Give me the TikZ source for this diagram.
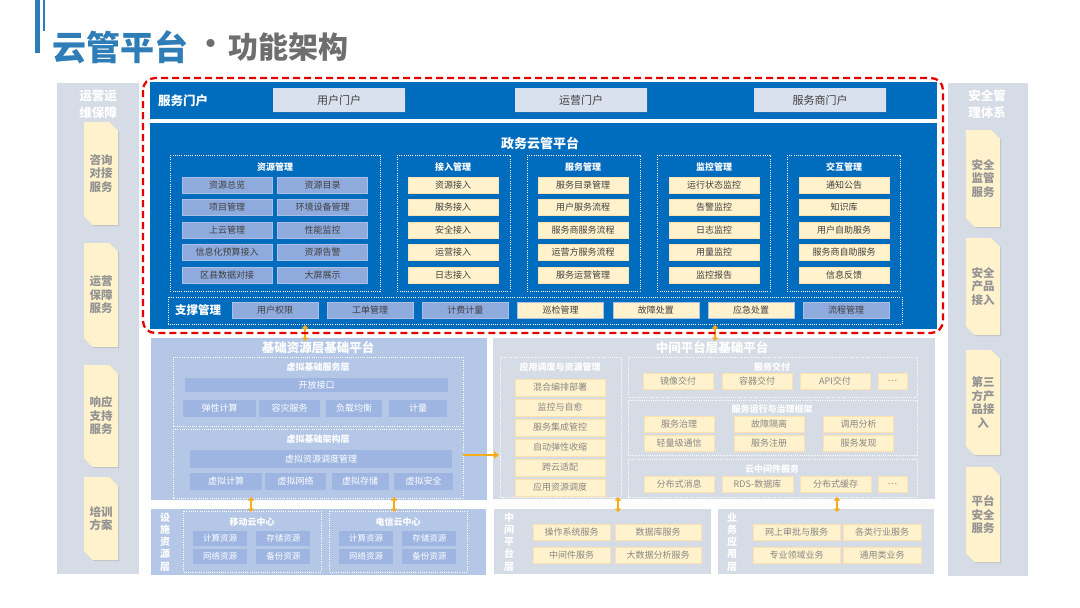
\documentclass[tikz,border=0pt]{standalone}
\usepackage{fontspec}
\setmainfont{Noto Sans CJK SC}
\usepackage{tikz}
\usetikzlibrary{shapes.misc, arrows.meta, positioning, shadows}
\definecolor{platblue}{RGB}{0, 108, 189}
\definecolor{titleblue}{RGB}{46, 125, 182}
\definecolor{titlegray}{RGB}{110, 110, 110}
\definecolor{lavender}{RGB}{143, 170, 220}
\definecolor{paleyellow}{RGB}{255, 242, 204}
\definecolor{portalgray}{RGB}{218, 225, 238}
\definecolor{sidegray}{RGB}{214, 220, 229}
\definecolor{basisblue}{RGB}{180, 199, 231}
\definecolor{basisbox}{RGB}{158, 181, 226}
\definecolor{dashred}{RGB}{228, 0, 0}
\definecolor{goldorange}{RGB}{247, 172, 28}
\definecolor{inkdark}{RGB}{64, 64, 64}
\definecolor{inkgray}{RGB}{135, 135, 135}
\tikzset{
  >=Stealth,
  softshadow/.style={drop shadow={shadow xshift=0.8pt, shadow yshift=-0.8pt, opacity=0.25}},
  dotgroup/.style={draw=white, line width=0.9pt, dash pattern=on 0.9pt off 1.3pt},
  grouptitle/.style={text=white, inner sep=0pt, font=\fontsize{9}{11}\selectfont\bfseries},
  layertitle/.style={text=white, inner sep=0pt, font=\fontsize{9}{11}\selectfont\bfseries},
  paneltitle/.style={text=white, inner sep=0pt, font=\fontsize{12.5}{14}\selectfont\bfseries},
  sidetitle/.style={text=white, inner sep=0pt, align=center, font=\fontsize{12.5}{17}\selectfont\bfseries},
  vlabel/.style={text=white, inner sep=0pt, align=center, font=\fontsize{10}{12.2}\selectfont\bfseries},
  portalitem/.style={rectangle, fill=portalgray, text=inkdark, inner sep=0pt, minimum width=132pt, minimum height=24pt, font=\fontsize{11}{13}\selectfont, softshadow},
  lavitem/.style={rectangle, fill=lavender, draw=white!25!lavender, line width=0.4pt, text=inkdark, inner sep=0pt, minimum width=90pt, minimum height=16pt, font=\fontsize{9}{11}\selectfont, softshadow},
  yelitem/.style={lavitem, fill=paleyellow, draw=paleyellow!85!orange},
  miditem/.style={yelitem, text=inkgray, minimum width=70pt},
  basisitem/.style={rectangle, fill=basisbox, text=white, inner sep=0pt, minimum height=17pt, font=\fontsize{9}{11}\selectfont},
  sidecard/.style={chamfered rectangle, chamfered rectangle corners={north east, south west}, chamfered rectangle xsep=5pt, fill=paleyellow, text=inkgray!90, inner sep=0pt, minimum width=34pt, align=center, font=\fontsize{11.5}{13.5}\selectfont\bfseries, drop shadow={shadow xshift=1.2pt, shadow yshift=-1.2pt, opacity=0.3}},
  duplex/.style={{Triangle[length=3.5pt, width=6.5pt]}-{Triangle[length=3.5pt, width=6.5pt]}, line width=2.2pt, goldorange},
  oneway/.style={-{Triangle[length=5pt, width=7.5pt]}, line width=2.6pt, goldorange}
}

\begin{document}
\begin{tikzpicture}[x=1pt, y=-1pt]
    \useasboundingbox (0,0) rectangle (1080,608);
    \fill[white] (0,0) rectangle (1080,608);

    % --- TITLE ---
    \fill[titleblue] (35,0) rectangle (39.5,53);
    \fill[titleblue] (43,0) rectangle (45,31);
    \node[anchor=west, inner sep=0pt, text=titleblue, font=\fontsize{34}{34}\selectfont\bfseries] (title) at (52,47) {云管平台};
    \node[inner sep=0pt, text=titlegray, font=\fontsize{29}{29}\selectfont\bfseries] (titleDot) at (211,47) {·};
    \node[anchor=west, inner sep=0pt, text=titlegray, font=\fontsize{30}{30}\selectfont\bfseries] (subtitle) at (228,47) {功能架构};

    % --- SIDE COLUMNS ---
    % Left: operation support
    \filldraw[sidegray, draw=white, line width=1pt, softshadow] (56,82) rectangle (139,574);
    \node[sidetitle] (opsTitle) at (98,104) {运营运\\维保障};
    \foreach \nm/\y/\h/\t in {cardL1/173.5/103/{咨询\\对接\\服务}, cardL2/295/104/{运营\\保障\\服务}, cardL3/416/102/{响应\\支持\\服务}, cardL4/518.5/83/{培训\\方案}}
        \node[sidecard, minimum height=\h pt] (\nm) at (101,\y) {\t};
    % Right: security system
    \filldraw[sidegray, draw=white, line width=1pt, softshadow] (947,82) rectangle (1028,576);
    \node[sidetitle] (secTitle) at (987,104) {安全管\\理体系};
    \foreach \nm/\y/\h/\t in {cardR1/178.5/97/{安全\\监管\\服务}, cardR2/286.5/97/{安全\\产品\\接入}, cardR3/402.5/105/{第三\\方产\\品接\\入}, cardR4/514.5/95/{平台\\安全\\服务}}
        \node[sidecard, minimum height=\h pt] (\nm) at (983,\y) {\t};

    % --- SERVICE PORTAL BAR ---
    \fill[platblue] (150,82) rectangle (937,119);
    \node[anchor=west, inner sep=0pt, text=white, font=\fontsize{12.5}{14}\selectfont\bfseries] (portal) at (158,101) {服务门户};
    \node[portalitem] (pUser) at (339,100) {用户门户};
    \node[portalitem] (pOps) at (581,100) {运营门户};
    \node[portalitem] (pVendor) at (820,100) {服务商门户};

    % --- GOVERNMENT CLOUD PLATFORM ---
    \fill[platblue] (150,123) rectangle (937,329);
    \node[paneltitle, font=\fontsize{13}{15}\selectfont\bfseries] (govTitle) at (540,143) {政务云管平台};
    \draw[dotgroup] (170,155) rectangle (380,291);
    \draw[dotgroup] (397,155) rectangle (510,291);
    \draw[dotgroup] (527,155) rectangle (640,291);
    \draw[dotgroup] (657,155) rectangle (770,291);
    \draw[dotgroup] (787,155) rectangle (900,291);
    \node[grouptitle] (gRes) at (275,167) {资源管理};
    \node[grouptitle] (gAcc) at (453,167) {接入管理};
    \node[grouptitle] (gSvc) at (583,167) {服务管理};
    \node[grouptitle] (gMon) at (714,167) {监控管理};
    \node[grouptitle] (gInt) at (844,167) {交互管理};
    \foreach \i/\a/\b in {1/资源总览/资源目录, 2/项目管理/环境设备管理, 3/上云管理/性能监控, 4/信息化预算接入/资源告警, 5/区县数据对接/大屏展示} {
        \node[lavitem] (resA\i) at (227, 162.5+22.5*\i) {\a};
        \node[lavitem] (resB\i) at (322.5, 162.5+22.5*\i) {\b};
    }
    \foreach \i/\p/\q/\r/\s in {1/资源接入/服务目录管理/运行状态监控/通知公告, 2/服务接入/用户服务流程/告警监控/知识库, 3/安全接入/服务商服务流程/日志监控/用户自助服务, 4/运营接入/运营方服务流程/用量监控/服务商自助服务, 5/日志接入/服务运营管理/监控报告/信息反馈} {
        \node[yelitem] (acc\i) at (453, 162.5+22.5*\i) {\p};
        \node[yelitem] (svc\i) at (583, 162.5+22.5*\i) {\q};
        \node[yelitem] (mon\i) at (714, 162.5+22.5*\i) {\r};
        \node[yelitem] (int\i) at (844, 162.5+22.5*\i) {\s};
    }
    % support management row
    \draw[dotgroup] (168,297) rectangle (902,324);
    \node[inner sep=0pt, text=white, font=\fontsize{11.5}{13}\selectfont\bfseries] (supTitle) at (198,310.5) {支撑管理};
    \foreach \i/\t/\c in {0/用户权限/lavender, 1/工单管理/lavender, 2/计费计量/lavender, 3/巡检管理/paleyellow, 4/故障处置/paleyellow, 5/应急处置/paleyellow, 6/流程管理/lavender}
        \node[lavitem, fill=\c, minimum width=86pt] (sup\i) at (275+95.2*\i, 310.5) {\t};

    % --- BASIS RESOURCE PLATFORM ---
    \filldraw[basisblue, draw=white, line width=1pt, softshadow] (150,337) rectangle (487,500);
    \node[paneltitle] (basisTitle) at (318,348) {基础资源层基础平台};
    \draw[dotgroup] (173,357) rectangle (463,426);
    \node[layertitle] (vSvcTitle) at (318,367) {虚拟基础服务层};
    \node[basisitem, minimum width=263pt, minimum height=14pt] (openApi) at (316.5,385) {开放接口};
    \foreach \nm/\x/\w/\t in {vs1/219.5/73/弹性计算, vs2/289.5/61/容灾服务, vs3/354/56/负载均衡, vs4/418/58/计量}
        \node[basisitem, minimum width=\w pt] (\nm) at (\x,408.5) {\t};
    \draw[dotgroup] (173,429) rectangle (463,498);
    \node[layertitle] (vArchTitle) at (318,439) {虚拟基础架构层};
    \node[basisitem, minimum width=262pt, minimum height=18pt] (vSched) at (321,459) {虚拟资源调度管理};
    \foreach \nm/\x/\w/\t in {va1/226/72/虚拟计算, va2/295.5/61/虚拟网络, va3/360/57/虚拟存储, va4/423.5/59/虚拟安全}
        \node[basisitem, minimum width=\w pt] (\nm) at (\x,481.5) {\t};

    % --- MIDDLE PLATFORM ---
    \filldraw[sidegray, draw=white, line width=1.5pt, softshadow] (492,337) rectangle (936,500);
    \node[paneltitle] (midTitle) at (712,348) {中间平台层基础平台};
    \draw[dotgroup] (500,357) rectangle (621,497);
    \node[layertitle] (appTitle) at (560,367) {应用调度与资源管理};
    \foreach \i/\t in {0/混合编排部署, 1/监控与自愈, 2/服务集成管控, 3/自动弹性收缩, 4/跨云适配, 5/应用资源调度}
        \node[miditem, minimum width=90pt, minimum height=17pt] (app\i) at (560, 387.5+20*\i) {\t};
    \draw[dotgroup] (628,357) rectangle (917,397);
    \node[layertitle] (delTitle) at (772,367) {服务交付};
    \foreach \nm/\x/\w/\t in {del1/678/70/镜像交付, del2/757/70/容器交付, del3/835/70/API交付, del4/892.5/29/…}
        \node[miditem, minimum width=\w pt] (\nm) at (\x,381) {\t};
    \draw[dotgroup] (628,400) rectangle (917,455);
    \node[layertitle] (rtTitle) at (772,409) {服务运行与治理框架};
    \foreach \i/\x/\a/\b in {1/679/服务治理/轻量级通信, 2/769/故障隔离/服务注册, 3/858.5/调用分析/服务发现} {
        \node[miditem] (rtA\i) at (\x,424.5) {\a};
        \node[miditem] (rtB\i) at (\x,443) {\b};
    }
    \draw[dotgroup] (628,459) rectangle (917,497);
    \node[layertitle] (mwTitle) at (772,469) {云中间件服务};
    \foreach \nm/\x/\w/\t in {mw1/679/70/分布式消息, mw2/757.5/71/RDS-数据库, mw3/835.5/71/分布式缓存, mw4/892.5/29/…}
        \node[miditem, minimum width=\w pt] (\nm) at (\x,484) {\t};

    % --- BOTTOM LAYERS ---
    % facility resources
    \filldraw[basisblue, draw=white, line width=1pt, softshadow] (150,508) rectangle (486,575);
    \node[vlabel] (facLabel) at (165,542) {设\\施\\资\\源\\层};
    \draw[dotgroup] (183,511) rectangle (321,572);
    \node[layertitle] (cmTitle) at (252,522) {移动云中心};
    \draw[dotgroup] (329,511) rectangle (467,572);
    \node[layertitle] (ctTitle) at (398,522) {电信云中心};
    \foreach \c/\x in {cm/220, ct/366} {
        \node[basisitem, minimum width=54pt, minimum height=15pt, font=\fontsize{8.5}{10}\selectfont] (\c1) at (\x,538.5) {计算资源};
        \node[basisitem, minimum width=54pt, minimum height=15pt, font=\fontsize{8.5}{10}\selectfont] (\c2) at (\x+63.3,538.5) {存储资源};
        \node[basisitem, minimum width=54pt, minimum height=15pt, font=\fontsize{8.5}{10}\selectfont] (\c3) at (\x,556.5) {网络资源};
        \node[basisitem, minimum width=54pt, minimum height=15pt, font=\fontsize{8.5}{10}\selectfont] (\c4) at (\x+63.3,556.5) {备份资源};
    }
    % middle platform layer
    \filldraw[sidegray, draw=white, line width=1.5pt, softshadow] (493,508) rectangle (712,575);
    \node[vlabel] (mpLabel) at (509,542) {中\\间\\平\\台\\层};
    \node[miditem, minimum width=77pt] (os) at (571.5,532) {操作系统服务};
    \node[miditem, minimum width=86pt] (db) at (658,532) {数据库服务};
    \node[miditem, minimum width=77pt] (mware) at (571.5,555.5) {中间件服务};
    \node[miditem, minimum width=86pt] (bigdata) at (658,555.5) {大数据分析服务};
    % business application layer
    \filldraw[sidegray, draw=white, line width=1.5pt, softshadow] (717,508) rectangle (935,575);
    \node[vlabel] (bizLabel) at (732,542) {业\\务\\应\\用\\层};
    \node[miditem, minimum width=87pt] (approve) at (796.5,532) {网上审批与服务};
    \node[miditem, minimum width=78pt] (industry) at (882,532) {各类行业服务};
    \node[miditem, minimum width=87pt] (domain) at (796.5,555.5) {专业领域业务};
    \node[miditem, minimum width=78pt] (general) at (882,555.5) {通用类业务};

    % --- ORANGE LINKS ---
    \coordinate (topL) at (305,325);  \coordinate (basisTop) at (305,341);
    \coordinate (topR) at (715,325);  \coordinate (midTop) at (715,341);
    \coordinate (basisOut) at (463,455); \coordinate (midIn) at (499,455);
    \coordinate (basisB1) at (251,497); \coordinate (facT1) at (251,512);
    \coordinate (basisB2) at (394,497); \coordinate (facT2) at (394,512);
    \coordinate (midB1) at (618,497); \coordinate (mpT) at (618,512);
    \coordinate (midB2) at (837,497); \coordinate (bizT) at (837,512);
    \draw[duplex] (topL) -- (basisTop);
    \draw[duplex] (topR) -- (midTop);
    \draw[oneway] (basisOut) -- (midIn);
    \draw[duplex] (basisB1) -- (facT1);
    \draw[duplex] (basisB2) -- (facT2);
    \draw[duplex] (midB1) -- (mpT);
    \draw[duplex] (midB2) -- (bizT);

    % --- RED DASHED FRAME ---
    \draw[dashred, line width=2.3pt, dash pattern=on 7pt off 4pt, rounded corners=12pt] (143,78) rectangle (943,333);
\end{tikzpicture}
\end{document}
